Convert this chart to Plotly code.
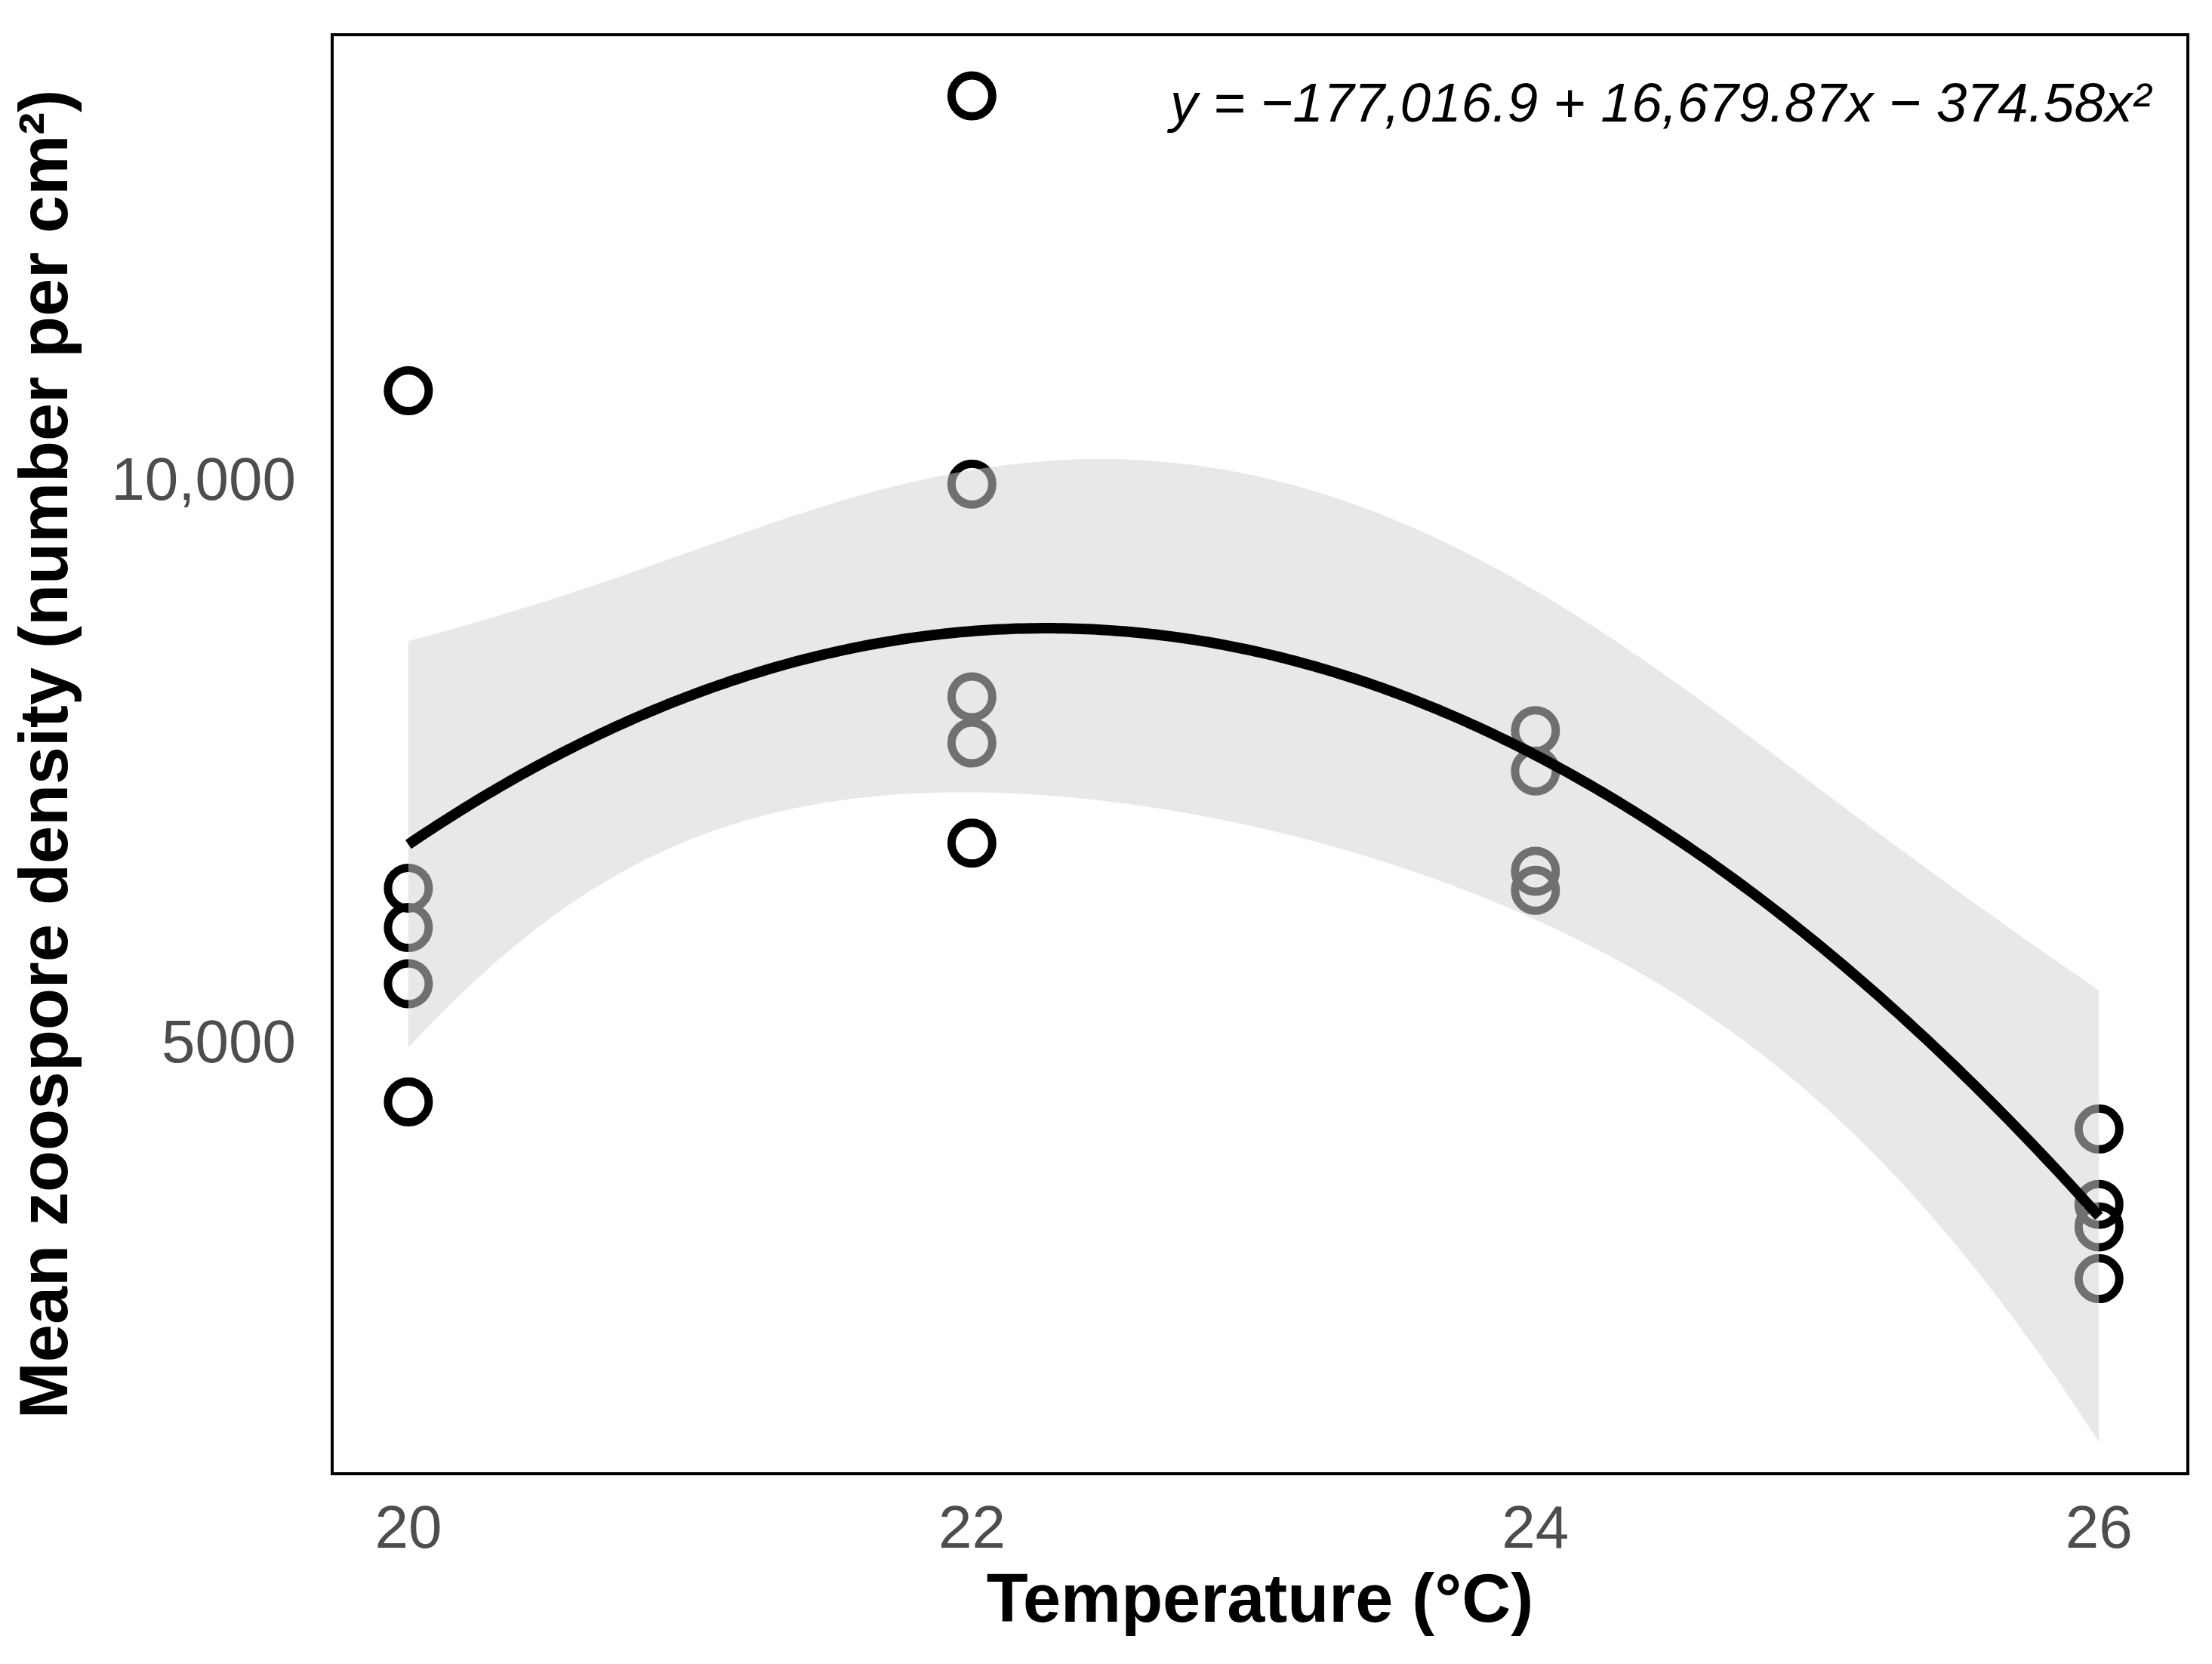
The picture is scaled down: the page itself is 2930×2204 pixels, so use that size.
import numpy as np
import plotly.graph_objects as go

# ---- data ----
temperature = [20, 20, 20, 20, 20,
               22, 22, 22, 22, 22,
               24, 24, 24, 24,
               26, 26, 26, 26]
density = [10780, 6360, 6010, 5510, 4460,
           13400, 9950, 8060, 7650, 6760,
           7760, 7400, 6510, 6340,
           4220, 3550, 3350, 2890]

# fitted quadratic (as printed on the chart): y = b0 + b1 x + b2 x^2
eq_coefs = [-177016.9, 16679.87, -374.58]
t_crit = 2.131  # t(0.975, df = 15)

x_ticks = [20, 22, 24, 26]
x_ticktext = ["20", "22", "24", "26"]
y_ticks = [5000, 10000]
y_ticktext = ["5000", "10,000"]

# ---- model + confidence band ----
xd = np.array(temperature, float)
yd = np.array(density, float)
X = np.column_stack([np.ones_like(xd), xd, xd ** 2])
b = np.array(eq_coefs)
resid = yd - X @ b
s2 = (resid ** 2).sum() / (len(xd) - 3)
XtX_inv = np.linalg.inv(X.T @ X)

xg = np.linspace(min(temperature), max(temperature), 300)
Xg = np.column_stack([np.ones_like(xg), xg, xg ** 2])
yg = Xg @ b
se = np.sqrt(s2 * np.einsum("ij,jk,ik->i", Xg, XtX_inv, Xg))
lower = yg - t_crit * se
upper = yg + t_crit * se

fig = go.Figure()
fig.add_trace(go.Scatter(
    x=temperature, y=density, mode="markers",
    marker=dict(symbol="circle-open", size=54, color="black",
                line=dict(width=11, color="black")),
    showlegend=False, hoverinfo="skip"))
fig.add_trace(go.Scatter(x=xg, y=lower, mode="lines",
                         line=dict(width=0, simplify=False),
                         showlegend=False, hoverinfo="skip"))
fig.add_trace(go.Scatter(x=xg, y=upper, mode="lines",
                         line=dict(width=0, simplify=False),
                         fill="tonexty", fillcolor="rgba(211,211,211,0.53)",
                         showlegend=False, hoverinfo="skip"))
fig.add_trace(go.Scatter(x=xg, y=yg, mode="lines",
                         line=dict(width=14, color="black", simplify=False),
                         showlegend=False, hoverinfo="skip"))

fig.add_annotation(
    xref="paper", yref="paper", x=0.983, y=0.954,
    xanchor="right", yanchor="middle", showarrow=False,
    text="<i>y = −177,016.9 + 16,679.87x − 374.58x²</i>",
    font=dict(family="Liberation Sans, Arial", size=73, color="black"))

fig.update_layout(
    width=2930, height=2204,
    margin=dict(l=434, r=42, t=40, b=262),
    paper_bgcolor="white", plot_bgcolor="white",
    font=dict(family="Liberation Sans, Arial", color="#4D4D4D"),
    xaxis=dict(range=[19.735, 26.31], tickvals=x_ticks, ticktext=x_ticktext,
               showgrid=False, zeroline=False, showline=True, mirror=True,
               linecolor="black", linewidth=4, ticks="",
               ticklabelstandoff=0,
               tickfont=dict(size=80, color="#4D4D4D"),
               title=dict(text="<b>Temperature (°C)</b>", standoff=18,
                          font=dict(size=90, color="black"))),
    yaxis=dict(range=[1170, 13930], tickvals=y_ticks, ticktext=y_ticktext,
               showgrid=False, zeroline=False, showline=True, mirror=True,
               linecolor="black", linewidth=4, ticks="",
               ticklabelstandoff=30,
               tickfont=dict(size=80, color="#4D4D4D"),
               title=dict(text="<b>Mean zoospore density (number per cm²)</b>",
                          standoff=30, font=dict(size=90, color="black"))),
)

fig.write_html("out.html")
